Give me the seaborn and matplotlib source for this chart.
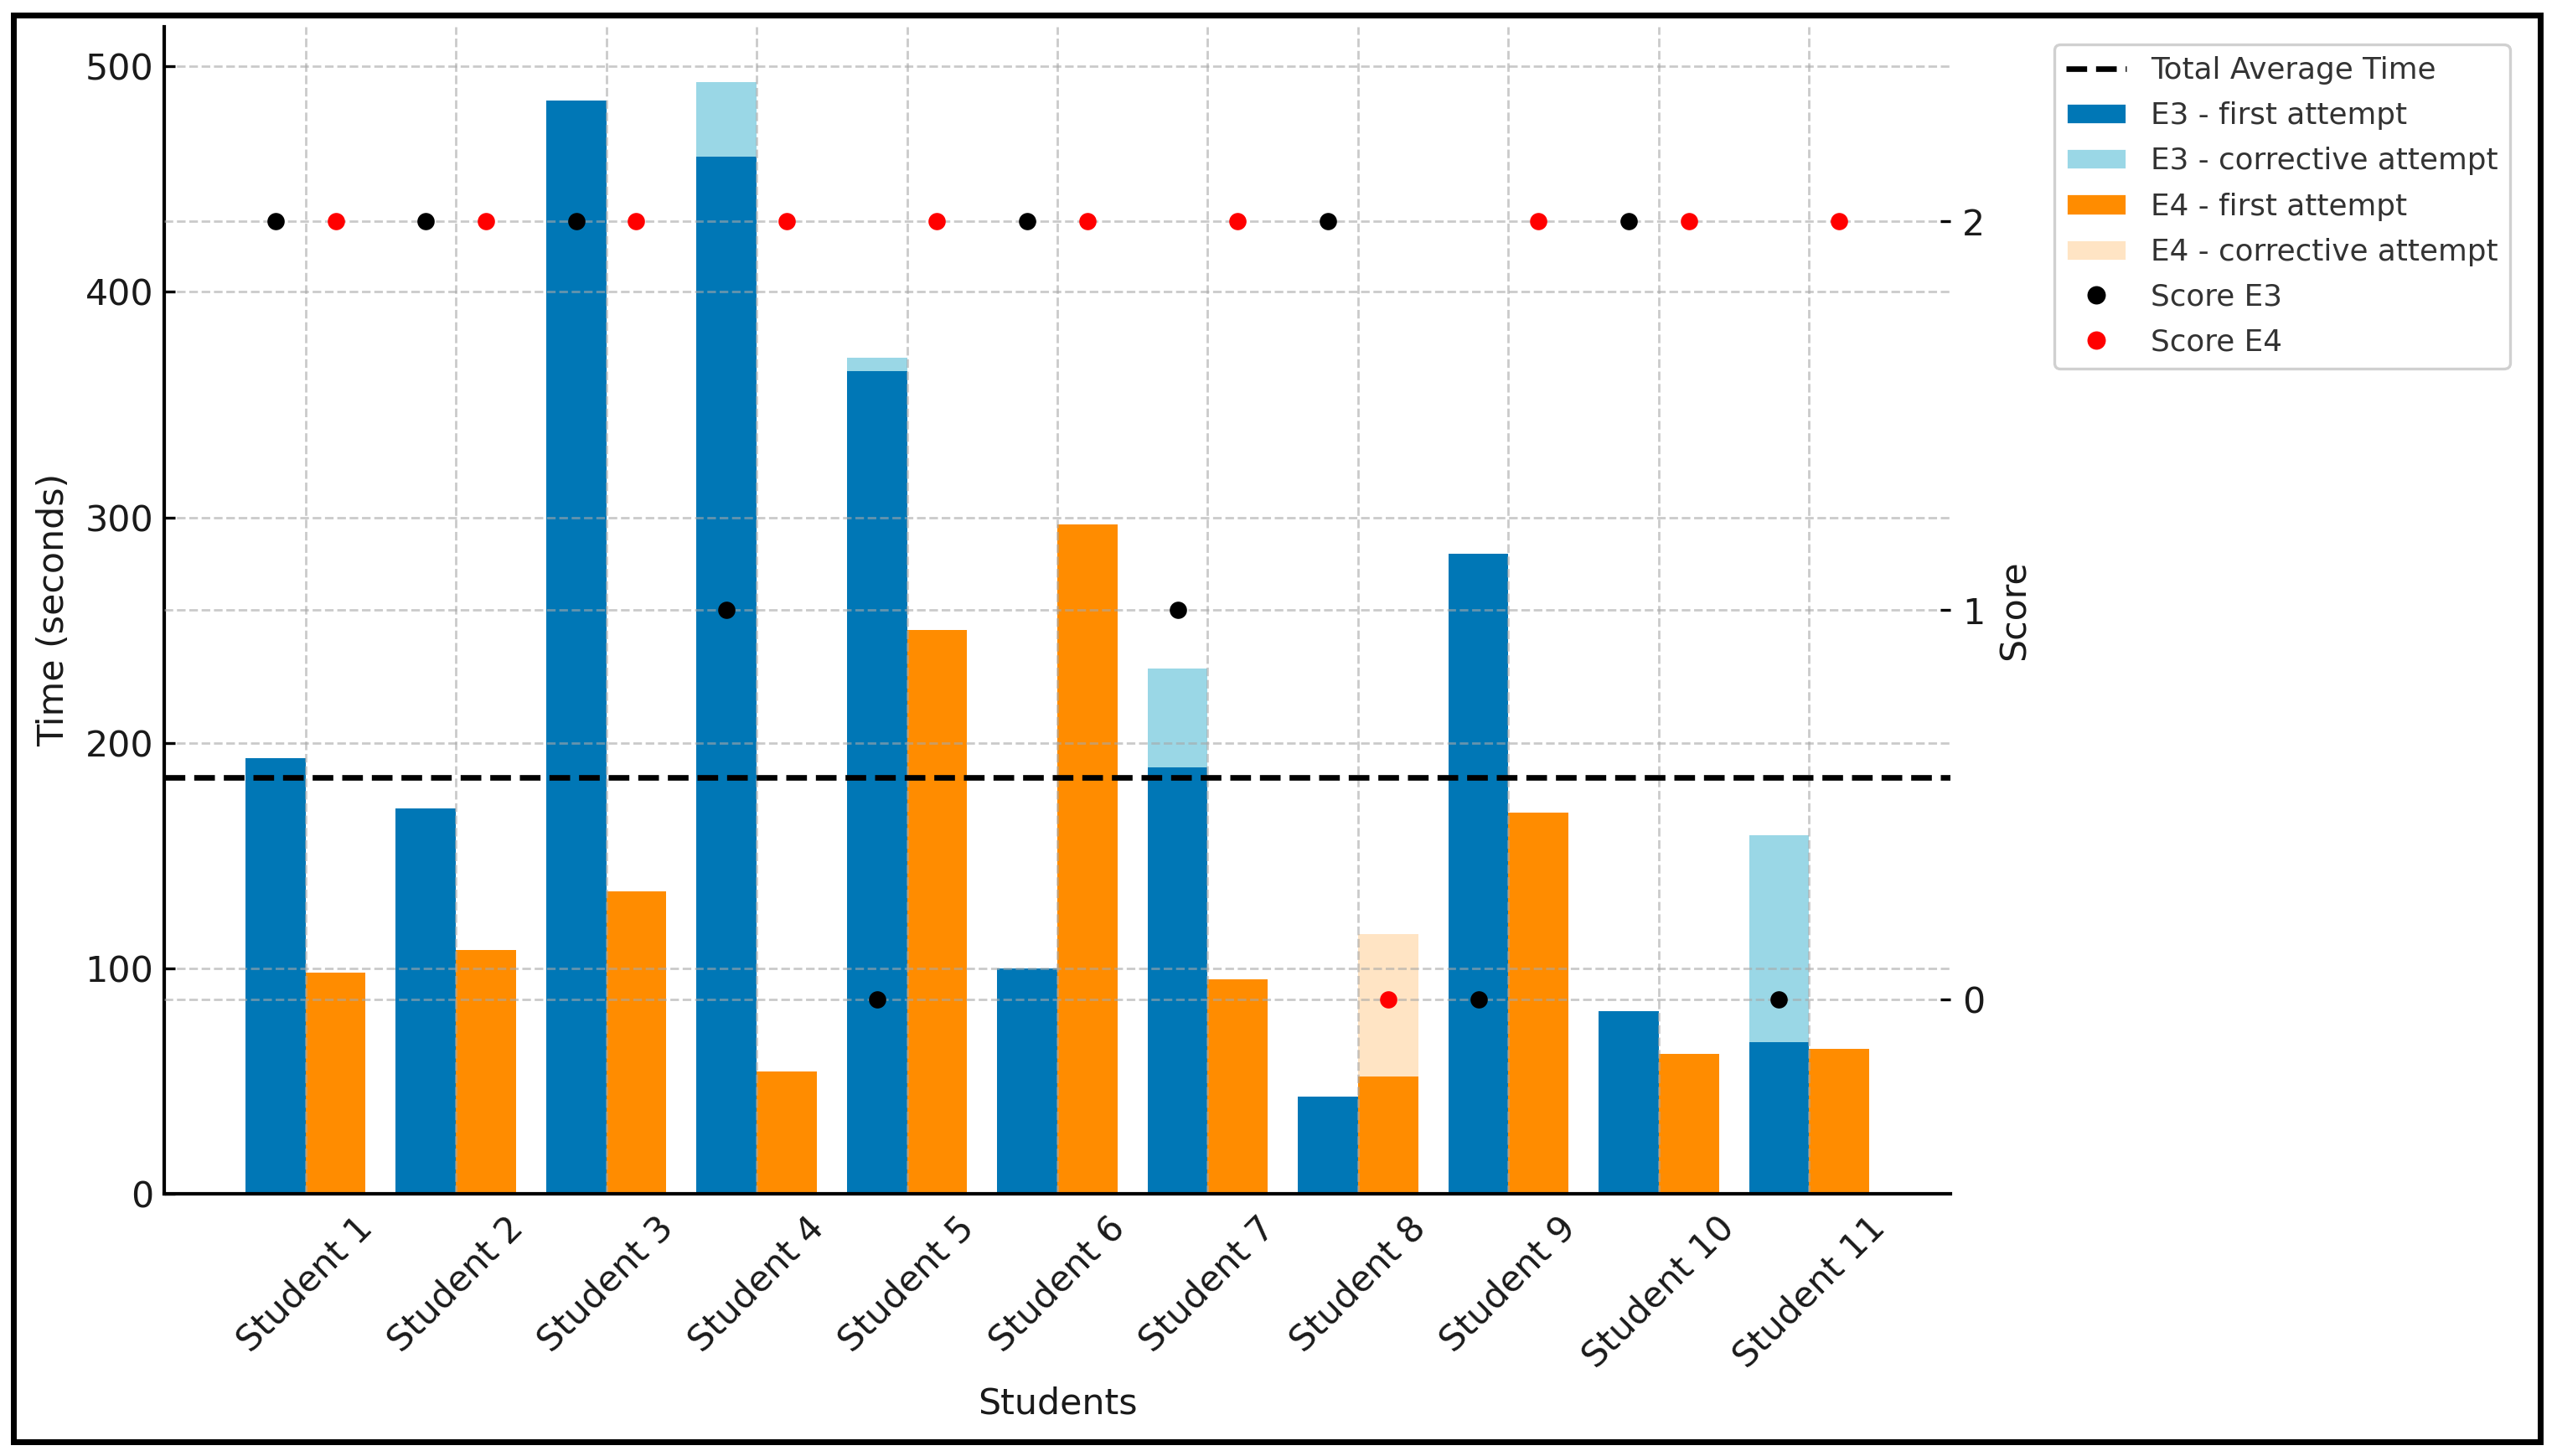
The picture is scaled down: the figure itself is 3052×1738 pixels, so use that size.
import numpy as np
import pandas as pd
import matplotlib
matplotlib.use("Agg")
import matplotlib.pyplot as plt
from matplotlib.patches import Patch, Rectangle
from matplotlib.lines import Line2D
import seaborn as sns

# Values
students = ["Student 1", "Student 2", "Student 3", "Student 4", "Student 5", "Student 6",
            "Student 7", "Student 8", "Student 9", "Student 10", "Student 11"]
e3_first = [193, 171, 485, 460, 365, 100, 189, 43, 284, 81, 67]
e3_corrective = [0, 0, 0, 33, 6, 0, 44, 0, 0, 0, 92]
e4_first = [98, 108, 134, 54, 250, 297, 95, 52, 169, 62, 64]
e4_corrective = [0, 0, 0, 0, 0, 0, 0, 63, 0, 0, 0]
score_e3 = [2, 2, 2, 1, 0, 2, 1, 2, 0, 2, 0]
score_e4 = [2, 2, 2, 2, 2, 2, 2, 0, 2, 2, 2]

BLUE = "#0077b6"
LIGHT_BLUE = "#9ad7e6"
ORANGE = "#ff8c00"
LIGHT_ORANGE = "#ffe4c4"
FS = 15.4

sns.set_theme(style="white")
plt.rcParams['font.family'] = ['DejaVu Sans']

n = len(students)
total_e3 = np.add(e3_first, e3_corrective)
total_e4 = np.add(e4_first, e4_corrective)
avg_time = np.concatenate([total_e3, total_e4]).mean()

df = pd.DataFrame({
    'student': students * 2,
    'exercise': ['E3'] * n + ['E4'] * n,
    'first': e3_first + e4_first,
    'total': list(total_e3) + list(total_e4),
})

fig = plt.figure(figsize=(15.26, 8.69), dpi=200)
ax = fig.add_axes([0.0642, 0.1803, 0.6986, 0.8013])

# corrective attempts show as the lighter part above the first attempt
sns.barplot(data=df, x='student', y='total', hue='exercise', order=students,
            hue_order=['E3', 'E4'], palette={'E3': LIGHT_BLUE, 'E4': LIGHT_ORANGE},
            saturation=1, errorbar=None, legend=False, linewidth=0, ax=ax)
sns.barplot(data=df, x='student', y='first', hue='exercise', order=students,
            hue_order=['E3', 'E4'], palette={'E3': BLUE, 'E4': ORANGE},
            saturation=1, errorbar=None, legend=False, linewidth=0, ax=ax)

ax.axhline(avg_time, color='black', linestyle='--', linewidth=2.4, zorder=3)

ax2 = ax.twinx()
pos = np.arange(n)
sns.scatterplot(x=pos - 0.2, y=score_e3, color='black', s=55, linewidth=0, ax=ax2, zorder=4)
sns.scatterplot(x=pos + 0.2, y=score_e4, color='red', s=55, linewidth=0, ax=ax2, zorder=4)

ax.margins(x=0.05)
ax.autoscale(enable=True, axis='x')
ax2.set_ylim(-0.5, 2.5)
ax2.set_yticks([0, 1, 2])

grid_kw = dict(linestyle='--', color='#a8a8a8', alpha=0.6, linewidth=1.0)
ax.set_axisbelow('line')
ax.grid(True, **grid_kw)
ax2.yaxis.grid(True, **grid_kw)
ax2.xaxis.grid(False)

for side in ['top', 'right']:
    ax.spines[side].set_visible(False)
for side in ['left', 'bottom']:
    ax.spines[side].set_color('black')
    ax.spines[side].set_linewidth(1.5)
for side in ax2.spines:
    ax2.spines[side].set_visible(False)

ax.tick_params(direction='in', length=4.5, width=1.2, color='black',
               labelsize=FS, labelcolor='#1a1a1a')
ax.tick_params(axis='y', pad=4.5)
ax.tick_params(axis='x', labelrotation=45, pad=7)
ax2.tick_params(axis='y', direction='in', length=4.5, width=1.2, color='black',
                labelsize=FS, labelcolor='#1a1a1a', pad=5)

ax.set_xlabel('Students', fontsize=FS, color='#1a1a1a', labelpad=5)
ax.set_ylabel('Time (seconds)', fontsize=FS, color='#1a1a1a', labelpad=6)
ax2.set_ylabel('Score', fontsize=FS, color='#1a1a1a', labelpad=5)

handles = [
    Line2D([0], [0], color='black', linestyle='--', linewidth=2.4, label='Total Average Time'),
    Patch(facecolor=BLUE, label='E3 - first attempt'),
    Patch(facecolor=LIGHT_BLUE, label='E3 - corrective attempt'),
    Patch(facecolor=ORANGE, label='E4 - first attempt'),
    Patch(facecolor=LIGHT_ORANGE, label='E4 - corrective attempt'),
    Line2D([0], [0], marker='o', color='none', markerfacecolor='black',
           markeredgecolor='none', markersize=7.9, label='Score E3'),
    Line2D([0], [0], marker='o', color='none', markerfacecolor='red',
           markeredgecolor='none', markersize=7.9, label='Score E4'),
]
leg = fig.legend(handles=handles, loc='upper left', bbox_to_anchor=(0.8034, 0.9695),
                 borderaxespad=0, fontsize=12.9, labelspacing=0.56, frameon=True,
                 fancybox=True, framealpha=1, edgecolor='#d0d0d0', labelcolor='#333333')
leg.get_frame().set_linewidth(1.2)

# black border around the whole picture
fig.add_artist(Rectangle((0.0054, 0.0098), 0.9880, 0.9796, transform=fig.transFigure,
                         fill=False, edgecolor='black', linewidth=2.5, zorder=10))

fig.savefig('out.png', dpi=200)
